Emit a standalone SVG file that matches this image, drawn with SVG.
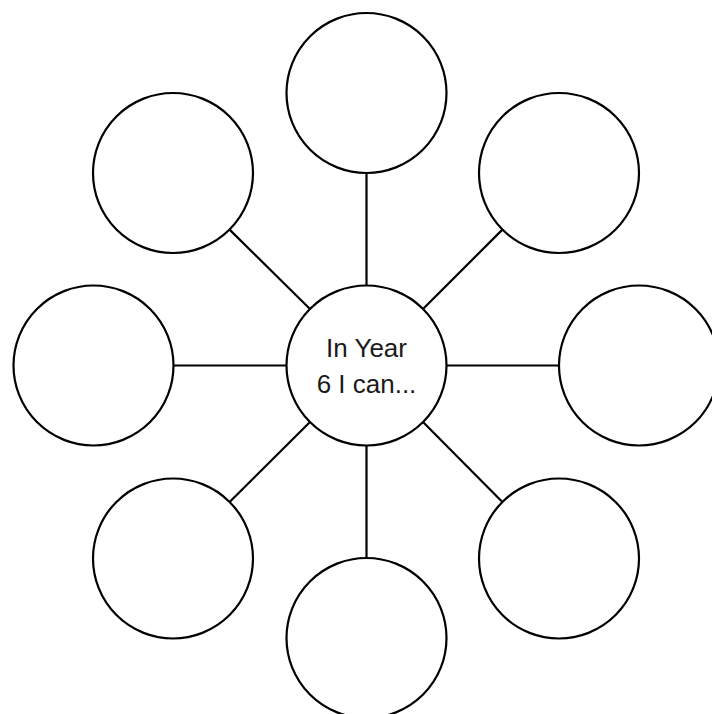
<svg xmlns="http://www.w3.org/2000/svg" width="712" height="714" viewBox="0 0 712 714">
<style>
.n{fill:#fff;stroke:#000;stroke-width:2.2}
.c line{stroke:#000;stroke-width:2.2}
.t{font-family:"Liberation Sans","Open Sans",sans-serif;font-size:26px;fill:#1a1a1a;text-anchor:middle}
</style>
<rect width="712" height="714" fill="#fff"/>
<g class="c" id="connectors">
<line x1="366.5" y1="173" x2="366.5" y2="285.5"/>
<line x1="366.5" y1="445.5" x2="366.5" y2="558"/>
<line x1="174" y1="365.5" x2="286.5" y2="365.5"/>
<line x1="446.5" y1="365.5" x2="559" y2="365.5"/>
<line x1="229.6" y1="229.6" x2="310" y2="309"/>
<line x1="502.4" y1="229.6" x2="423" y2="309"/>
<line x1="229.6" y1="502" x2="310" y2="422"/>
<line x1="502.4" y1="502" x2="423" y2="422"/>
</g>
<g id="center"><circle class="n" cx="366.5" cy="365.5" r="80"/>
<text class="t" x="366.5" y="357">In Year</text>
<text class="t" x="366.5" y="393">6 I can...</text></g>
<g id="top"><circle class="n" cx="366.5" cy="93" r="80"/></g>
<g id="bottom"><circle class="n" cx="366.5" cy="638" r="80"/></g>
<g id="left"><circle class="n" cx="93.5" cy="365.5" r="80"/></g>
<g id="right"><circle class="n" cx="639" cy="365.5" r="80"/></g>
<g id="top-left"><circle class="n" cx="173" cy="173" r="80"/></g>
<g id="top-right"><circle class="n" cx="559" cy="173" r="80"/></g>
<g id="bottom-left"><circle class="n" cx="173" cy="558.5" r="80"/></g>
<g id="bottom-right"><circle class="n" cx="559" cy="558.5" r="80"/></g>
</svg>
